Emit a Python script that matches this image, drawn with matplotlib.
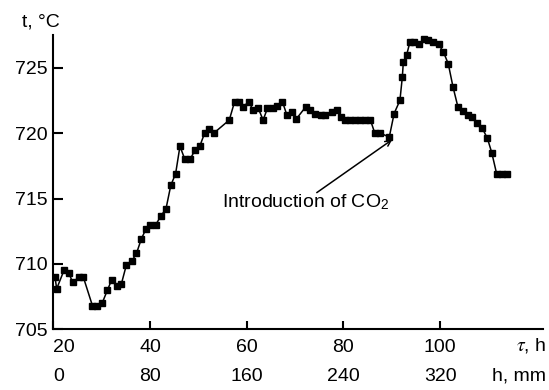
import matplotlib
matplotlib.use("Agg")
import matplotlib.pyplot as plt

plt.rcParams['font.family'] = ['Liberation Sans', 'DejaVu Sans']
plt.rcParams['mathtext.fontset'] = 'stix'

# time, h  and  temperature, deg C
tau = [20.35, 20.7, 22.2, 23.2, 24.0, 25.4, 26.2, 28.1, 29.1, 30.1,
       31.2, 32.1, 33.1, 34.1, 35.1, 36.2, 37.2, 38.2, 39.2, 40.1,
       41.2, 42.3, 43.3, 44.3, 45.3, 46.2, 47.2, 48.3, 49.3, 50.3,
       51.3, 52.3, 53.2, 56.4, 57.5, 58.5, 59.3, 60.4, 61.3, 62.4,
       63.4, 64.3, 65.4, 66.3, 67.4, 68.3, 69.4, 70.3, 72.2, 73.2,
       74.2, 75.3, 76.3, 77.6, 78.6, 79.6, 80.3, 81.4, 82.4, 83.4,
       84.5, 85.6, 86.5, 87.6, 89.5, 90.5, 91.7, 92.2, 92.4, 93.1,
       93.8, 94.7, 95.7, 96.6, 97.5, 98.5, 99.7, 100.7, 101.7, 102.7,
       103.7, 104.8, 105.8, 106.7, 107.7, 108.7, 109.8, 110.7, 111.7, 112.8,
       113.8]
temp = [709.0, 708.1, 709.5, 709.3, 708.6, 709.0, 709.0, 706.8, 706.8, 707.0,
        708.0, 708.8, 708.3, 708.5, 709.9, 710.2, 710.8, 711.9, 712.7, 713.0,
        713.0, 713.7, 714.2, 716.0, 716.9, 719.0, 718.0, 718.0, 718.7, 719.0,
        720.0, 720.3, 720.0, 721.0, 722.4, 722.4, 722.0, 722.4, 721.8, 721.9,
        721.0, 721.9, 721.9, 722.1, 722.4, 721.4, 721.6, 721.1, 722.0, 721.8,
        721.5, 721.4, 721.4, 721.6, 721.8, 721.2, 721.0, 721.0, 721.0, 721.0,
        721.0, 721.0, 720.0, 720.0, 719.7, 721.5, 722.5, 724.3, 725.4, 726.0,
        727.0, 727.0, 726.8, 727.2, 727.1, 727.0, 726.8, 726.2, 725.3, 723.5,
        722.0, 721.7, 721.4, 721.2, 720.8, 720.4, 719.6, 718.5, 716.9, 716.9,
        716.9]

tau_ticks = [20, 40, 60, 80, 100]
h_ticks = [0, 80, 160, 240, 320]
t_ticks = [705, 710, 715, 720, 725]

fig = plt.figure(figsize=(5.49, 3.90), dpi=100)
ax = fig.add_axes([0.0971, 0.1556, 0.892, 0.7546])

ax.plot(tau, temp, color='black', lw=1.1, marker='s', ms=4.6,
        mec='black', mfc='black')

ax.set_xlim(20, 121.3)
ax.set_ylim(705, 727.5)
ax.set_xticks(tau_ticks)
ax.set_yticks(t_ticks)
ax.spines['top'].set_visible(False)
ax.spines['right'].set_visible(False)
for s in ('left', 'bottom'):
    ax.spines[s].set_linewidth(1.5)
ax.tick_params(direction='in', width=1.5, labelsize=14)
ax.tick_params(axis='x', length=6, pad=7)
ax.tick_params(axis='y', length=7, pad=4)
ax.get_xticklabels()[0].set_ha('left')

# second row: height, mm
secax = ax.secondary_xaxis('bottom', functions=(lambda x: (x - 20) * 4,
                                                lambda h: h / 4 + 20))
secax.set_xticks(h_ticks)
secax.spines['bottom'].set_visible(False)
secax.tick_params(length=0, pad=28, labelsize=14)
secax.get_xticklabels()[0].set_ha('left')

fig.text(0.040, 0.944, 't, °C', fontsize=14, va='center', ha='left')
fig.text(0.995, 0.115, '$\\tau$, h', fontsize=14, va='center', ha='right')
fig.text(0.995, 0.036, 'h, mm', fontsize=14, va='center', ha='right')

ax.text(54.9, 714.7, 'Introduction of CO$_{\\mathregular{2}}$', fontsize=14,
        va='center', ha='left')
ax.annotate('', xy=(90.1, 719.5), xytext=(74.5, 715.45),
            arrowprops=dict(arrowstyle='->', color='black', lw=1.1,
                            shrinkA=0, shrinkB=0))

fig.savefig('out.png', dpi=100)
